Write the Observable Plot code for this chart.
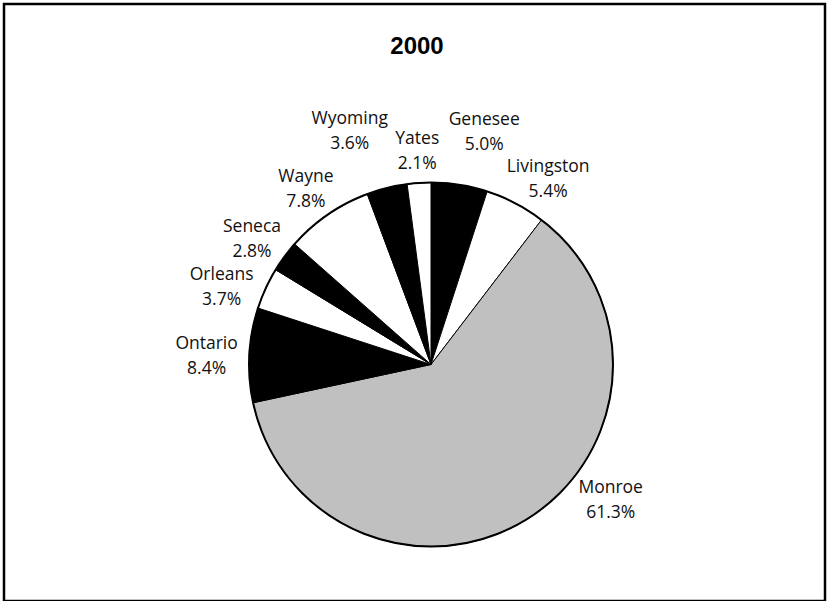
<!DOCTYPE html>
<html><head><meta charset="utf-8">
<script src="https://cdn.jsdelivr.net/npm/d3@7"></script>
<script src="https://cdn.jsdelivr.net/npm/@observablehq/plot@0.6"></script>
<style>body{margin:0;background:#fff}</style>
</head><body><div id="chart"></div>
<script>
// ---- data ----
const chartTitle = "2000";
const counties = ["Genesee","Livingston","Monroe","Ontario","Orleans","Seneca","Wayne","Wyoming","Yates"];
const shares = [5.0, 5.4, 61.3, 8.4, 3.7, 2.8, 7.8, 3.6, 2.1];
// ---- styles ----
const sliceFill = ["#000000","#ffffff","#c0c0c0","#000000","#ffffff","#000000","#ffffff","#000000","#ffffff"];

const W = 827, H = 601;
const R = 182, CX = 431, CY = 364.5;       // pie layout (px)
const LABEL_FONT = "'Open Sans', sans-serif";
const FS = 17.5, LINE = 25, GX = 12, GY = 16, BOX_H = 38, COL_H = 45, PAD = 5;
const TOP_LIMIT = 100, BOTTOM_LIMIT = 518;

const data = counties.map((name, i) => ({name, value: shares[i], label: `${name}\n${shares[i].toFixed(1)}%`}));
const arcs = d3.pie().sort(null).value(d => d.value)(data);

// measure label widths
const ctx = document.createElement("canvas").getContext("2d");
ctx.font = `${FS}px 'Open Sans'`;
const boxes = arcs.map((a, i) => {
  const lines = data[i].label.split("\n");
  const w = Math.max(...lines.map(l => ctx.measureText(l).width));
  return {i, value: a.data.value, theta: (a.startAngle + a.endAngle) / 2, extra: 0, w, h: BOX_H};
});
const step = Math.PI / 180;
function place(b) {
  const s = Math.sin(b.theta), c = Math.cos(b.theta);
  b.cx = CX + (R + GX + b.extra + b.w / 2) * s;
  b.cy = CY - (R + GY + b.extra + b.h / 2) * c;
}
function constrain(b) {
  place(b);
  let n = 0;
  while (b.cy + b.h / 2 > BOTTOM_LIMIT && n++ < 90) { b.theta += (b.theta < Math.PI ? -step : step); place(b); }
  n = 0;
  while (b.cy - b.h / 2 < TOP_LIMIT && n++ < 90) { b.theta += (b.theta < Math.PI ? step : -step); place(b); }
}
function overlap(a, b) {
  return Math.abs(a.cx - b.cx) < (a.w + b.w) / 2 + PAD && Math.abs(a.cy - b.cy) < COL_H + 1;
}
// greedy: smallest slices keep their preferred spot, larger ones move aside
const placed = [];
for (const b of [...boxes].sort((p, q) => p.value - q.value)) {
  constrain(b);
  for (let it = 0; it < 60; it++) {
    const other = placed.find(o => overlap(b, o));
    if (!other) break;
    let d = b.theta - other.theta;
    while (d > Math.PI) d -= 2 * Math.PI;
    while (d <= -Math.PI) d += 2 * Math.PI;
    b.theta += (d >= 0 ? 1 : -1) * step;
    if (Math.abs(Math.cos(b.theta)) > 0.95) b.extra += 8;   // near top/bottom: also push outward
    constrain(b);
  }
  placed.push(b);
}
const labels = boxes.map(b => ({label: data[b.i].label, x: (b.cx - CX) / R, y: (CY - b.cy) / R}));

const fillScale = Plot.scale({color: {type: "ordinal", domain: counties, range: sliceFill}});

function pieMark(index, scales) {
  const cx = scales.x(0), cy = scales.y(0);
  const r = scales.x(1) - scales.x(0);
  const g = d3.create("svg:g").attr("transform", `translate(${cx},${cy})`);
  const arc = d3.arc().innerRadius(0).outerRadius(r);
  g.selectAll("path").data(arcs).join("path")
    .attr("d", arc)
    .attr("fill", d => fillScale.apply(d.data.name))
    .attr("stroke", "#000").attr("stroke-width", 1).attr("stroke-linejoin", "round");
  g.append("circle").attr("r", r).attr("fill", "none").attr("stroke", "#000").attr("stroke-width", 2);
  return g.node();
}

const chart = Plot.plot({
  width: W, height: H, margin: 0,
  x: {domain: [-CX / R, (W - CX) / R], axis: null},
  y: {domain: [-(H - CY) / R, CY / R], axis: null},
  style: {background: "#fff", fontFamily: LABEL_FONT},
  marks: [
    Plot.frame({stroke: "#000", strokeWidth: 2.5, insetLeft: 3.5, insetTop: 3.5, insetRight: 2.5, insetBottom: 0.5}),
    pieMark,
    Plot.text(labels, {x: "x", y: "y", text: "label", fontSize: FS, lineHeight: LINE / FS, lineAnchor: "middle", textAnchor: "middle", fill: "#111", fontFamily: LABEL_FONT}),
    Plot.text([chartTitle], {frameAnchor: "top", lineAnchor: "middle", dy: 45.5, dx: 3, text: d => d, fontSize: 24, fontWeight: "bold", fontFamily: "'Liberation Sans', Arial, sans-serif", fill: "#000"})
  ]
});
document.getElementById("chart").append(chart);
</script>
</body></html>
